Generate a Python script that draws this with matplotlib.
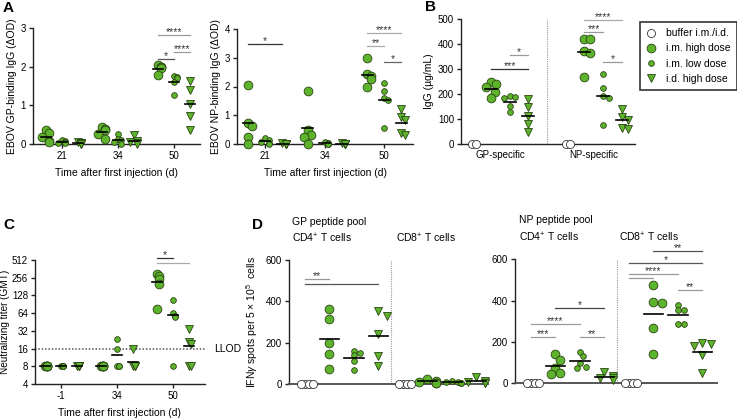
import numpy as np
import matplotlib
matplotlib.use('Agg')
import matplotlib.pyplot as plt
from matplotlib.lines import Line2D

plt.rcParams['font.family'] = ['Liberation Sans', 'DejaVu Sans']
plt.rcParams['mathtext.fontset'] = 'custom'
plt.rcParams['mathtext.rm'] = 'Liberation Sans'
plt.rcParams['mathtext.it'] = 'Liberation Sans:italic'
plt.rcParams['font.size'] = 7.5
plt.rcParams['xtick.labelsize'] = 7
plt.rcParams['ytick.labelsize'] = 7

#-----------------------------------------------------------------------
# data
#-----------------------------------------------------------------------

# A : EBOV binding IgG (delta OD) at days 21, 34, 50
a_days = ['21', '34', '50']
a_gp_high = [[0.35, 0.28, 0.18, 0.08, 0.04], [0.43, 0.38, 0.35, 0.26, 0.13], [2.04, 2.0, 1.98, 1.96, 1.78]]
a_gp_low = [[0.10, 0.08, 0.05, 0.03, 0.02], [0.26, 0.13, 0.10, 0.05, 0.0], [1.76, 1.73, 1.70, 1.60, 1.27]]
a_gp_id = [[0.05, 0.03, 0.02, 0.01, 0.0], [0.22, 0.09, 0.05, 0.02, 0.0], [1.63, 1.39, 1.04, 0.72, 0.35]]
a_np_high = [[2.06, 0.74, 0.62, 0.25, 0.0], [1.83, 0.48, 0.31, 0.23, 0.0], [2.98, 2.44, 2.36, 2.26, 1.98]]
a_np_low = [[0.20, 0.14, 0.08, 0.02, 0.0], [0.08, 0.05, 0.03, 0.0, 0.0], [2.11, 1.86, 1.61, 1.52, 0.54]]
a_np_id = [[0.02, 0.01, 0.0, 0.0, 0.0], [0.02, 0.01, 0.0, 0.0, 0.0], [1.23, 0.94, 0.83, 0.37, 0.31]]

# B : IgG (ug/mL)
b_cats = ['GP-specific', 'NP-specific']
b_buffer = [[0, 0], [0, 0]]
b_high = [[248, 238, 225, 208, 181], [418, 418, 371, 364, 268]]
b_low = [[190, 185, 181, 150, 127], [281, 224, 190, 184, 74]]
b_id = [[177, 145, 110, 80, 47], [139, 107, 94, 64, 60]]

# C : neutralizing titer at days -1, 34, 50
c_days = ['-1', '34', '50']
c_high = [[8, 8, 8, 8, 8], [8, 8, 8, 8, 8], [292, 272, 240, 197, 76]]
c_low = [[8, 8, 8, 8, 8], [23, 16, 8, 8, 8], [109, 64, 58, 56, 8]]
c_id = [[8, 8, 8, 8, 8], [16, 8, 8, 8, 8], [34, 21, 19, 8, 8]]
c_llod = 16
c_ticks = [4, 8, 16, 32, 64, 128, 256, 512]

# D : IFN-gamma spots, CD4 then CD8, groups buffer / high / low / i.d.
d_gp_cd4 = [[0, 0, 0, 0], [362, 314, 201, 148, 76], [162, 153, 140, 113, 69], [354, 331, 243, 137, 90]]
d_gp_cd8 = [[0, 0, 0, 0], [24, 18, 13, 8, 5], [14, 12, 9, 6, 5], [37, 16, 13, 8, 5]]
d_np_cd4 = [[0, 0, 0, 0], [140, 113, 76, 48, 44], [153, 131, 97, 81, 76], [53, 37, 27, 24, 18]]
d_np_cd8 = [[0, 0, 0, 0], [476, 395, 390, 269, 144], [379, 355, 355, 287, 287], [194, 189, 181, 137, 52]]

groups = ['buffer', 'high', 'low', 'id']
legend_labels = ['buffer i.m./i.d.', 'i.m. high dose', 'i.m. low dose', 'i.d. high dose']

# significance bars : (group from, group to, height, stars, colour)
sig_a_gp = [(6, 7, 2.19, '*', '#555'), (6, 8, 2.83, '****', '#999'), (7, 8, 2.37, '****', '#999')]
sig_a_np = [(-1, 1, 3.47, '*', '#333'), (6, 8, 3.87, '****', '#aaa'), (6, 7, 3.41, '**', '#aaa'), (7, 8, 2.84, '*', '#666')]
sig_b = [(1, 3, 301, '***', '#333'), (2, 3, 357, '*', '#999'), (6, 8, 495, '****', '#aaa'),
         (6, 7, 448, '***', '#999'), (7, 8, 328, '*', '#999')]
sig_c = [(6, 7, 560, '*', '#333'), (6, 8, 449, '', '#aaa')]
sig_d_gp = [(0, 1, 507, '**', '#999'), (0, 3, 483, '', '#555')]
sig_d_np = [(0, 1, 226, '***', '#999'), (0, 2, 287, '****', '#999'), (1, 3, 363, '*', '#444'),
            (2, 3, 226, '**', '#999'), (5, 7, 640, '**', '#555'), (4, 7, 583, '*', '#555'),
            (4, 6, 529, '****', '#999'), (4, 5, 510, '', '#999'), (6, 7, 451, '**', '#999')]

#-----------------------------------------------------------------------
# helpers
#-----------------------------------------------------------------------

W, H = 737, 418
fig = plt.figure(figsize=(W / 100, H / 100), dpi=100)

GREEN = '#5db32b'
EDGE = '#2a4514'
STYLE = {
    'buffer': dict(marker='o', ms=5.8, mfc='white', mec='#333'),
    'high': dict(marker='o', ms=6.3, mfc=GREEN, mec=EDGE),
    'low': dict(marker='o', ms=4.1, mfc=GREEN, mec=EDGE),
    'id': dict(marker='v', ms=6.1, mfc=GREEN, mec=EDGE),
}


def px_axes(x0, y0, x1, y1):
    # axes placed by pixel box (top-left origin)
    ax = fig.add_axes([x0 / W, 1 - y1 / H, (x1 - x0) / W, (y1 - y0) / H])
    for s in ['top', 'right']:
        ax.spines[s].set_visible(False)
    for s in ['left', 'bottom']:
        ax.spines[s].set_color('#222')
        ax.spines[s].set_linewidth(1.0)
    ax.tick_params(direction='out', length=3, width=1, color='#222', pad=2)
    ax.patch.set_alpha(0)
    return ax


def swarm(ax, xc, vals, ms, half, sep=0.8):
    # spread points sideways (in pixels) when they collide
    d = ms * fig.dpi / 72.0
    x0 = ax.transData.transform((xc, vals[0]))[0]
    unit = ax.transData.transform((xc + 1, vals[0]))[0] - x0
    lim = half * unit
    placed = []
    xs = []
    for v in vals:
        y = ax.transData.transform((xc, v))[1]
        off = 0
        for k in range(12):
            off = ((k + 1) // 2) * 0.5 * d * (1 if k % 2 else -1)
            off = max(-lim, min(lim, off))
            if all((off - px) ** 2 + (y - py) ** 2 >= (sep * d) ** 2 for px, py in placed):
                break
        placed.append((off, y))
        xs.append(xc + off / unit)
    return xs


def draw_group(ax, xc, vals, kind, half=0.3, mean_w=0.3, sep=0.8):
    st = STYLE[kind]
    xs = swarm(ax, xc, vals, st['ms'], half, sep)
    ax.plot(xs, vals, ls='', mew=0.6, clip_on=False, zorder=3, **st)
    if kind != 'buffer':
        m = np.mean(vals)
        ax.plot([xc - mean_w, xc + mean_w], [m, m], color='k', lw=1.2, zorder=4, clip_on=False)


def sig(ax, bars):
    for x1, x2, y, lab, col in bars:
        ax.plot([x1, x2], [y, y], color=col, lw=0.9, clip_on=False, zorder=2)
        if lab:
            ax.annotate(lab, ((x1 + x2) / 2, y), xytext=(0, -1.5), textcoords='offset points',
                        ha='center', va='bottom', fontsize=7.5, color='#333', annotation_clip=False)


#-----------------------------------------------------------------------
# A
#-----------------------------------------------------------------------

for box, xl, ylim, yt, data, ylab, bars in [
        ((33, 28, 200, 144), (-1.8, 8.64), 3, [0, 1, 2, 3], (a_gp_high, a_gp_low, a_gp_id),
         'EBOV GP-binding IgG (ΔOD)', sig_a_gp),
        ((237, 29, 413, 144), (-1.65, 8.7), 4, [0, 1, 2, 3, 4], (a_np_high, a_np_low, a_np_id),
         'EBOV NP-binding IgG (ΔOD)', sig_a_np)]:
    ax = px_axes(*box)
    ax.set_xlim(*xl)
    ax.set_ylim(0, ylim)
    ax.set_yticks(yt)
    ax.set_xticks([i * 3.5 for i in range(len(a_days))])
    ax.set_xticklabels(a_days)
    ax.set_ylabel(ylab, labelpad=3)
    ax.set_xlabel('Time after first injection (d)', labelpad=5)
    for i in range(len(a_days)):
        for g, kind in enumerate(['high', 'low', 'id']):
            draw_group(ax, i * 3.5 + g - 1, data[g][i], kind, half=0.22, mean_w=0.32)
    sig(ax, bars)

#-----------------------------------------------------------------------
# B
#-----------------------------------------------------------------------

ax = px_axes(461, 19, 635, 143.5)
ax.set_xlim(-0.59, 8.7)
ax.set_ylim(0, 500)
ax.set_yticks([0, 100, 200, 300, 400, 500])
ax.set_xticks([1.5, 6.5])
ax.set_xticklabels(b_cats)
ax.tick_params(axis='x', length=0, pad=5)
ax.set_ylabel('IgG (µg/mL)', labelpad=3)
ax.axvline(4, color='#999', ls=(0, (1, 1)), lw=0.8)
for c in range(len(b_cats)):
    for g, data in enumerate([b_buffer, b_high, b_low, b_id]):
        draw_group(ax, c * 5 + g, data[c], groups[g], half=0.3, mean_w=0.32,
                   sep=0.5 if g == 0 else 0.8)
sig(ax, sig_b)

handles = [Line2D([], [], ls='', mew=0.6, **STYLE[k]) for k in groups]
leg = fig.legend(handles, legend_labels, loc='upper left', bbox_to_anchor=(640 / W, 1 - 22 / H),
                 frameon=True, fancybox=False, fontsize=7.5, handlelength=1.0, handletextpad=0.9,
                 borderpad=0.6, labelspacing=0.5, borderaxespad=0)
leg.get_frame().set_edgecolor('black')
leg.get_frame().set_linewidth(1.2)

#-----------------------------------------------------------------------
# C
#-----------------------------------------------------------------------

ax = px_axes(35, 260, 205, 384)
ax.set_yscale('log', base=2)
ax.set_xlim(-1.63, 9.0)
ax.set_ylim(4, 512)
ax.set_yticks(c_ticks)
ax.set_yticklabels([str(t) for t in c_ticks])
ax.minorticks_off()
ax.set_xticks([i * 3.5 for i in range(len(c_days))])
ax.set_xticklabels(c_days)
ax.set_ylabel('Neutralizing titer (GMT)', labelpad=1, fontsize=7.2)
ax.set_xlabel('Time after first injection (d)', labelpad=5)
ax.axhline(c_llod, color='#555', ls=(0, (1, 1.2)), lw=1.1)
ax.text(214 / W, 1 - 349 / H, 'LLOD', transform=fig.transFigure, va='center', ha='left', fontsize=7.5)
for i in range(len(c_days)):
    for g, (data, kind) in enumerate(zip([c_high, c_low, c_id], ['high', 'low', 'id'])):
        draw_group(ax, i * 3.5 + g - 1, data[i], kind, half=0.12, mean_w=0.32)
sig(ax, sig_c)

#-----------------------------------------------------------------------
# D
#-----------------------------------------------------------------------

ylab_d = 'IFN$\\gamma$ spots per 5 × 10$^{5}$  cells'
for box, xl, cd4, cd8, bars in [((289, 260, 488, 384.3), (-0.65, 7.47), d_gp_cd4, d_gp_cd8, sig_d_gp),
                                ((515, 259.3, 717, 383.3), (-0.65, 7.6), d_np_cd4, d_np_cd8, sig_d_np)]:
    ax = px_axes(*box)
    ax.set_xlim(*xl)
    ax.set_ylim(0, 600)
    ax.set_yticks([0, 200, 400, 600])
    ax.set_xticks([])
    ax.spines['bottom'].set_color('#555')
    ax.spines['bottom'].set_linewidth(1.4)
    ax.plot([3.5, 3.5], [0, 600], color='#999', ls=(0, (1, 1)), lw=0.8)
    if box[0] < 400:
        ax.set_ylabel(ylab_d, labelpad=4)
    for s, data in enumerate([cd4, cd8]):
        for g in range(len(groups)):
            draw_group(ax, s * 4 + g, data[g], groups[g], half=0.35, mean_w=0.4,
                       sep=0.5 if g == 0 else 0.8)
    sig(ax, bars)

# titles of D
for x, y, t in [(292, 222, 'GP peptide pool'), (292, 238, 'CD4$^{+}$ T cells'), (396, 238, 'CD8$^{+}$ T cells'),
                (519, 220, 'NP peptide pool'), (519, 237, 'CD4$^{+}$ T cells'), (619, 237, 'CD8$^{+}$ T cells')]:
    fig.text(x / W, 1 - y / H, t, ha='left', va='center', fontsize=7.5)

# panel letters
for x, y, t in [(3, 8, 'A'), (425, 7, 'B'), (3, 225, 'C'), (252, 225, 'D')]:
    fig.text(x / W, 1 - y / H, t, ha='left', va='center', fontsize=11, fontweight='bold')

fig.savefig('out.png', dpi=100)
